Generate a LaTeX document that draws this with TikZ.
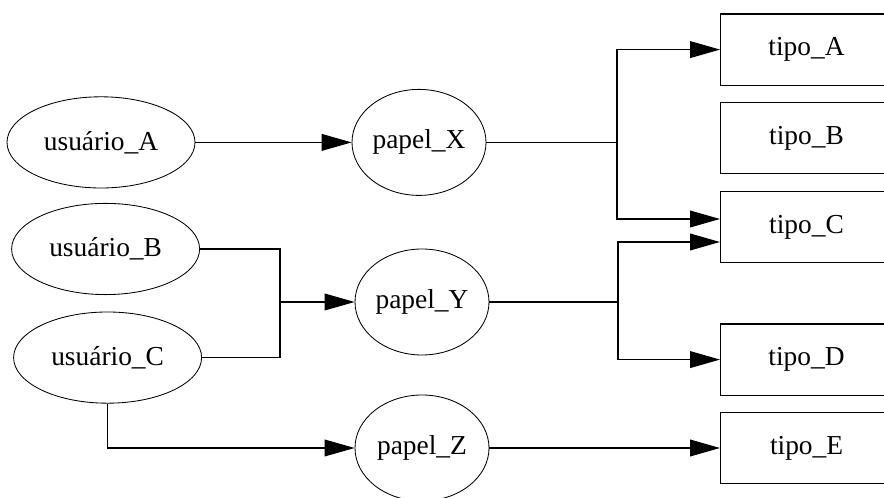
\documentclass[tikz,border=0pt]{standalone}
\usepackage{fontspec}
\setmainfont{Liberation Serif}
\usetikzlibrary{arrows.meta, shapes.geometric}

\begin{document}
\begin{tikzpicture}[
    font=\fontsize{19.5}{23}\selectfont,
    user/.style={
        ellipse, draw, line width=0.6pt,
        minimum width=4.7cm, minimum height=2.28cm, inner sep=0pt
    },
    role/.style={
        ellipse, draw, line width=0.6pt,
        minimum width=3.35cm, minimum height=2.65cm, inner sep=0pt
    },
    kind/.style={
        rectangle, draw, line width=0.8pt, anchor=west,
        minimum width=4.3cm, minimum height=1.78cm, inner sep=0pt
    },
    link/.style={
        line width=0.8pt
    },
    harrow/.style={
        -{Triangle[length=0.75cm, width=0.42cm]}, line width=0.8pt
    },
]

\useasboundingbox (0,0) rectangle (22.1,12.45);
\clip (0,0) rectangle (22.1,12.45);

% ============================================================
% Users
% ============================================================

\node[user] (uA) at (2.525,8.89)  {usuário\_A};
\node[user] (uB) at (2.64,6.225)  {usuário\_B};
\node[user] (uC) at (2.69,3.51)   {usuário\_C};

% ============================================================
% Roles
% ============================================================

\node[role] (pX) at (10.475,8.89) {papel\_X};
\node[role] (pY) at (10.55,4.9)   {papel\_Y};
\node[role] (pZ) at (10.55,1.25)  {papel\_Z};

% ============================================================
% Types (cut by the right border)
% ============================================================

\node[kind] (tA) at (18.0,11.21) {tipo\_A};
\node[kind] (tB) at (18.0,9.0)   {tipo\_B};
\node[kind] (tC) at (18.0,6.775) {tipo\_C};
\node[kind] (tD) at (18.0,3.46)  {tipo\_D};
\node[kind] (tE) at (18.0,1.25)  {tipo\_E};

% branch points
\coordinate (jBC) at (7.0,4.9);
\coordinate (jX)  at (15.425,8.89);
\coordinate (jY)  at (15.45,4.9);

% users -> roles
\draw[harrow] (uA.east) -- (pX.west);
\draw[link] (uB.east) -| (jBC);
\draw[link] (uC.east) -| (jBC);
\draw[harrow] (jBC) -- (pY.west);
\draw[harrow] (uC.south) |- (pZ.west);

% roles -> types
\draw[link] (pX.east) -- (jX);
\draw[harrow] (jX) |- (tA.west);
\draw[harrow] (jX) |- ([yshift=0.2cm]tC.west);

\draw[link] (pY.east) -- (jY);
\draw[harrow] (jY) |- ([yshift=-0.375cm]tC.west);
\draw[harrow] (jY) |- (tD.west);

\draw[harrow] (pZ.east) -- (tE.west);

\end{tikzpicture}
\end{document}
